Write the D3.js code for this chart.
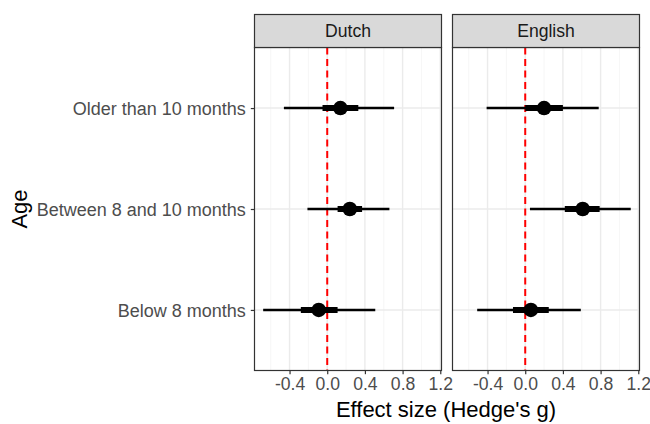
<!DOCTYPE html>
<html><head><meta charset="utf-8">
<script src="https://cdn.jsdelivr.net/npm/d3@7"></script>
<style>body{margin:0;background:#fff}</style>
</head><body>
<svg id="c" width="650" height="424"></svg>
<script>
const panels = ["Dutch", "English"];
const ages = ["Older than 10 months", "Between 8 and 10 months", "Below 8 months"];
const xTicks = [-0.4, 0.0, 0.4, 0.8, 1.2];
const xMinor = [-0.6, -0.2, 0.2, 0.6, 1.0];
// estimates per panel, in order of ages
const dutchEst   = [0.14, 0.24, -0.09];
const dutchLo95  = [-0.46, -0.21, -0.68];
const dutchHi95  = [0.71, 0.66, 0.51];
const dutchLo50  = [-0.05, 0.11, -0.28];
const dutchHi50  = [0.33, 0.37, 0.11];
const englishEst  = [0.20, 0.61, 0.06];
const englishLo95 = [-0.41, 0.05, -0.51];
const englishHi95 = [0.78, 1.12, 0.59];
const englishLo50 = [0.00, 0.42, -0.13];
const englishHi50 = [0.40, 0.79, 0.25];

const series = {
  Dutch: ages.map((a,i)=>({age:a, est:dutchEst[i], lo95:dutchLo95[i], hi95:dutchHi95[i], lo50:dutchLo50[i], hi50:dutchHi50[i]})),
  English: ages.map((a,i)=>({age:a, est:englishEst[i], lo95:englishLo95[i], hi95:englishHi95[i], lo50:englishLo50[i], hi50:englishHi50[i]}))
};

const svg = d3.select("#c");
const font = "'Liberation Sans', Arial, sans-serif";
const panelX = [254.5, 452.5], panelW = 187;
const stripTop = 14.5, stripH = 33, pTop = stripTop + stripH, pBot = 370.5;

const x = d3.scaleLinear().domain([-0.772, 1.213]).range([0, panelW]);
const y = d3.scalePoint().domain(ages).range([pTop, pBot]).padding(0.6);

panels.forEach((p, pi) => {
  const g = svg.append("g").attr("transform", `translate(${panelX[pi]},0)`);
  g.append("rect").attr("x",0).attr("y",pTop).attr("width",panelW).attr("height",pBot-pTop).attr("fill","#fff");
  g.selectAll(".mn").data(xMinor).enter().append("line")
    .attr("x1",d=>x(d)).attr("x2",d=>x(d)).attr("y1",pTop).attr("y2",pBot)
    .attr("stroke","#F2F2F2").attr("stroke-width",0.7);
  g.selectAll(".mj").data(xTicks).enter().append("line")
    .attr("x1",d=>x(d)).attr("x2",d=>x(d)).attr("y1",pTop).attr("y2",pBot)
    .attr("stroke","#EBEBEB").attr("stroke-width",1.4);
  g.selectAll(".hy").data(ages).enter().append("line")
    .attr("x1",0).attr("x2",panelW).attr("y1",d=>y(d)).attr("y2",d=>y(d))
    .attr("stroke","#EBEBEB").attr("stroke-width",1.4);
  g.append("line").attr("x1",x(0)).attr("x2",x(0)).attr("y1",pTop).attr("y2",pBot)
    .attr("stroke","#FF0000").attr("stroke-width",2).attr("stroke-dasharray","7,4.5");
  const d = series[p];
  g.selectAll(".t").data(d).enter().append("line")
    .attr("x1",r=>x(r.lo95)).attr("x2",r=>x(r.hi95)).attr("y1",r=>y(r.age)).attr("y2",r=>y(r.age))
    .attr("stroke","#000").attr("stroke-width",2.4);
  g.selectAll(".k").data(d).enter().append("line")
    .attr("x1",r=>x(r.lo50)).attr("x2",r=>x(r.hi50)).attr("y1",r=>y(r.age)).attr("y2",r=>y(r.age))
    .attr("stroke","#000").attr("stroke-width",6);
  g.selectAll(".pt").data(d).enter().append("circle")
    .attr("cx",r=>x(r.est)).attr("cy",r=>y(r.age)).attr("r",7.3).attr("fill","#000");
  g.append("rect").attr("x",0).attr("y",pTop).attr("width",panelW).attr("height",pBot-pTop)
    .attr("fill","none").attr("stroke","#333333").attr("stroke-width",1.2);
  g.append("rect").attr("x",0).attr("y",stripTop).attr("width",panelW).attr("height",stripH)
    .attr("fill","#D9D9D9").attr("stroke","#333333").attr("stroke-width",1.2);
  g.append("text").attr("x",panelW/2).attr("y",stripTop+stripH/2+6).attr("text-anchor","middle")
    .attr("font-family",font).attr("font-size",17.6).attr("fill","#1A1A1A").text(p);
  const ax = g.append("g").attr("transform",`translate(0,${pBot})`)
    .call(d3.axisBottom(x).tickValues(xTicks).tickFormat(d3.format(".1f")).tickSize(3.7).tickPadding(3));
  ax.select(".domain").remove();
  ax.selectAll("line").attr("stroke","#333333").attr("stroke-width",1.2);
  ax.selectAll("text").attr("font-family",font).attr("font-size",17.6).attr("fill","#4D4D4D")
    .text(v => d3.format(".1f")(v).replace("−","-"));
});

const ay = svg.append("g").attr("transform",`translate(${panelX[0]},0)`)
  .call(d3.axisLeft(y).tickSize(3.7).tickPadding(5));
ay.select(".domain").remove();
ay.selectAll("line").attr("stroke","#333333").attr("stroke-width",1.2);
ay.selectAll("text").attr("font-family",font).attr("font-size",18).attr("fill","#4D4D4D").attr("dy","0.35em");

svg.append("text").attr("x",446).attr("y",417).attr("text-anchor","middle")
  .attr("font-family",font).attr("font-size",22).attr("fill","#000").text("Effect size (Hedge's g)");
svg.append("text").attr("transform","translate(27,209) rotate(-90)").attr("text-anchor","middle")
  .attr("font-family",font).attr("font-size",22).attr("fill","#000").text("Age");
</script>
</body></html>
